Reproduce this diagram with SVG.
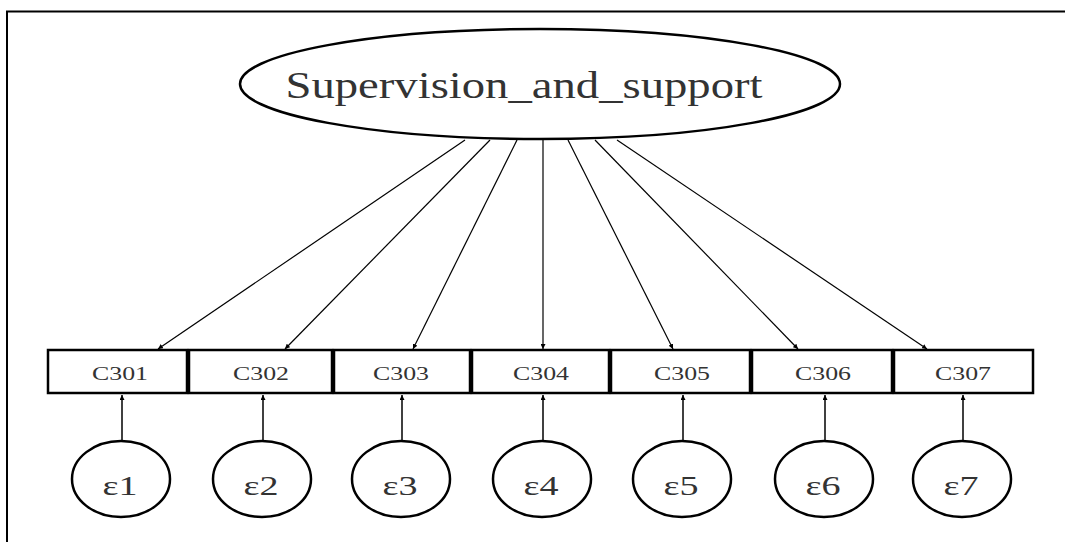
<svg xmlns="http://www.w3.org/2000/svg" width="1065" height="542" viewBox="0 0 1065 542">
<defs>
<style>
.frame{fill:none;stroke:#000;stroke-width:2}
.shape{fill:#fff;stroke:#000;stroke-width:2.5}
.conn{stroke:#000;stroke-width:1.2;fill:none}
.err{stroke:#000;stroke-width:1.5;fill:none}
.lbl{font-family:"Liberation Serif","Times New Roman",serif;fill:#333;text-anchor:middle}
.big{font-size:38px}
.box{font-size:19px}
.eps{font-size:27px}
</style>
<marker id="ah" viewBox="0 0 10 10" refX="10" refY="5" markerWidth="5" markerHeight="5" markerUnits="userSpaceOnUse" orient="auto">
<path d="M0,0 L10,5 L0,10 z" fill="#000"/>
</marker>
</defs>
<rect width="1065" height="542" fill="#fff"/>
<path class="frame" d="M7,545 V11.5 H1068"/>
<g id="connectors">
<line class="conn" x1="465" y1="140" x2="158" y2="349" marker-end="url(#ah)"/>
<line class="conn" x1="490" y1="140" x2="285" y2="349" marker-end="url(#ah)"/>
<line class="conn" x1="517" y1="140" x2="413" y2="349" marker-end="url(#ah)"/>
<line class="conn" x1="543" y1="140" x2="543" y2="349" marker-end="url(#ah)"/>
<line class="conn" x1="568" y1="140" x2="673" y2="349" marker-end="url(#ah)"/>
<line class="conn" x1="595" y1="140" x2="798" y2="349" marker-end="url(#ah)"/>
<line class="conn" x1="617" y1="140" x2="927" y2="349" marker-end="url(#ah)"/>
<line class="err" x1="122" y1="441" x2="122" y2="395" marker-end="url(#ah)"/>
<line class="err" x1="263" y1="441" x2="263" y2="395" marker-end="url(#ah)"/>
<line class="err" x1="402" y1="441" x2="402" y2="395" marker-end="url(#ah)"/>
<line class="err" x1="543" y1="441" x2="543" y2="395" marker-end="url(#ah)"/>
<line class="err" x1="683" y1="441" x2="683" y2="395" marker-end="url(#ah)"/>
<line class="err" x1="825" y1="441" x2="825" y2="395" marker-end="url(#ah)"/>
<line class="err" x1="963" y1="441" x2="963" y2="395" marker-end="url(#ah)"/>
</g>
<g id="latent">
<ellipse class="shape" cx="540" cy="84" rx="300" ry="55"/>
<text class="lbl big" x="524" y="98" textLength="477" lengthAdjust="spacingAndGlyphs">Supervision_and_support</text>
</g>
<g id="C301"><rect class="shape" x="48" y="350" width="139" height="43"/><text class="lbl box" x="120" y="380" textLength="56" lengthAdjust="spacingAndGlyphs">C301</text></g>
<g id="C302"><rect class="shape" x="189" y="350" width="143" height="43"/><text class="lbl box" x="261" y="380" textLength="56" lengthAdjust="spacingAndGlyphs">C302</text></g>
<g id="C303"><rect class="shape" x="334" y="350" width="136" height="43"/><text class="lbl box" x="401" y="380" textLength="56" lengthAdjust="spacingAndGlyphs">C303</text></g>
<g id="C304"><rect class="shape" x="472" y="350" width="137" height="43"/><text class="lbl box" x="541" y="380" textLength="56" lengthAdjust="spacingAndGlyphs">C304</text></g>
<g id="C305"><rect class="shape" x="611" y="350" width="139" height="43"/><text class="lbl box" x="682" y="380" textLength="56" lengthAdjust="spacingAndGlyphs">C305</text></g>
<g id="C306"><rect class="shape" x="752" y="350" width="140" height="43"/><text class="lbl box" x="823" y="380" textLength="56" lengthAdjust="spacingAndGlyphs">C306</text></g>
<g id="C307"><rect class="shape" x="894" y="350" width="139" height="43"/><text class="lbl box" x="963" y="380" textLength="56" lengthAdjust="spacingAndGlyphs">C307</text></g>
<g id="e1"><ellipse class="shape" cx="121" cy="479" rx="49" ry="38"/><text class="lbl eps" x="120" y="495" textLength="35" lengthAdjust="spacingAndGlyphs">ε1</text></g>
<g id="e2"><ellipse class="shape" cx="262" cy="479" rx="49" ry="38"/><text class="lbl eps" x="261" y="495" textLength="35" lengthAdjust="spacingAndGlyphs">ε2</text></g>
<g id="e3"><ellipse class="shape" cx="401" cy="479" rx="49" ry="38"/><text class="lbl eps" x="400" y="495" textLength="35" lengthAdjust="spacingAndGlyphs">ε3</text></g>
<g id="e4"><ellipse class="shape" cx="542" cy="479" rx="49" ry="38"/><text class="lbl eps" x="541" y="495" textLength="35" lengthAdjust="spacingAndGlyphs">ε4</text></g>
<g id="e5"><ellipse class="shape" cx="682" cy="479" rx="49" ry="38"/><text class="lbl eps" x="681" y="495" textLength="35" lengthAdjust="spacingAndGlyphs">ε5</text></g>
<g id="e6"><ellipse class="shape" cx="824" cy="479" rx="49" ry="38"/><text class="lbl eps" x="823" y="495" textLength="35" lengthAdjust="spacingAndGlyphs">ε6</text></g>
<g id="e7"><ellipse class="shape" cx="962" cy="479" rx="49" ry="38"/><text class="lbl eps" x="961" y="495" textLength="35" lengthAdjust="spacingAndGlyphs">ε7</text></g>
</svg>
